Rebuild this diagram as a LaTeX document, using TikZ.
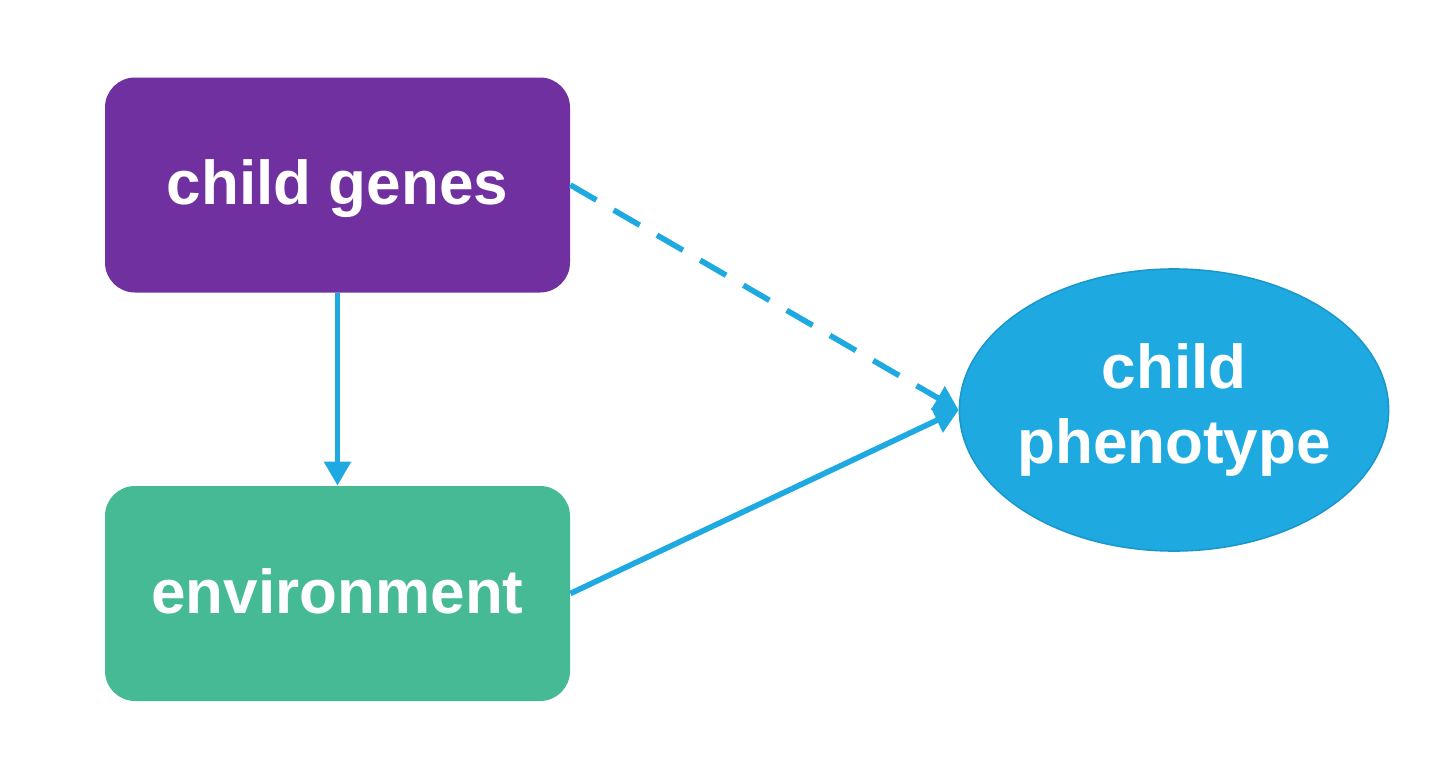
\documentclass[tikz,border=0pt]{standalone}
\usepackage{fontspec}
\setmainfont{Liberation Sans}
\usetikzlibrary{arrows.meta,shapes.geometric}
\definecolor{cpurple}{HTML}{7030A0}
\definecolor{cgreen}{HTML}{45BA95}
\definecolor{cblue}{HTML}{1EAAE1}
\definecolor{cblueedge}{HTML}{1A98CC}
\tikzset{
  box/.style={rectangle, rounded corners=15pt, minimum width=232.5pt, minimum height=107.5pt, inner sep=0pt,
    text=white, font=\fontsize{31}{37.5}\selectfont\bfseries, text height=26pt, text depth=6.5pt},
  link/.style={draw=cblue, line width=2.8pt, -{Triangle[width=13pt,length=12pt]}},
}
\begin{document}
\begin{tikzpicture}[x=0.5pt,y=-0.5pt]
\useasboundingbox[fill=white] (0,0) rectangle (1440,782);
\node[box, fill=cpurple] (genes) at (337.5,185) {child genes};
\node[box, fill=cgreen] (env) at (337.5,593.5) {environment};
\node[ellipse, fill=cblue, draw=cblueedge, line width=0.8pt, minimum width=213pt, minimum height=141pt, inner xsep=-2.5pt, inner ysep=0pt,
  text=white, font=\fontsize{31}{37.5}\selectfont\bfseries, align=center] (ph) at (1174,410) {child\\phenotype};
\draw[link] (genes.south) -- (env.north);
\draw[link, dash pattern=on 15pt off 10pt] (genes.east) -- (ph.west);
\draw[link] (env.east) -- (ph.west);
\end{tikzpicture}
\end{document}
